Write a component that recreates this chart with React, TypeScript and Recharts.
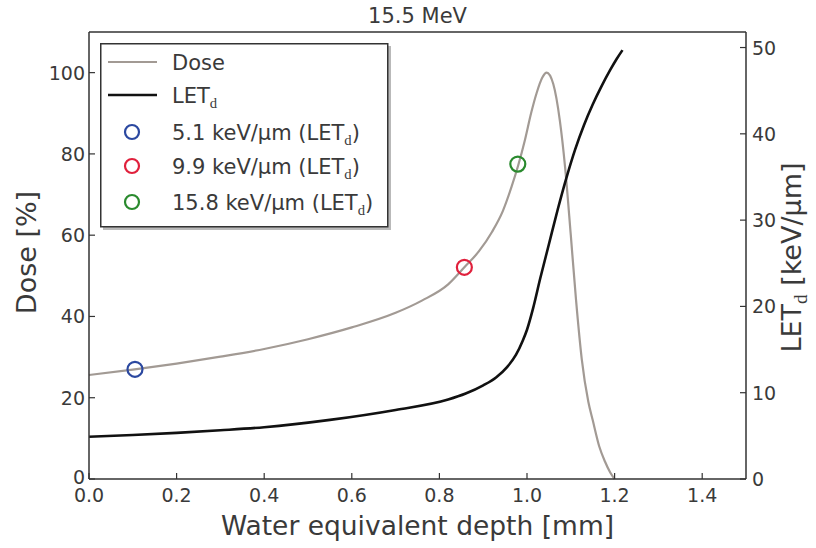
import React from 'react';
import { ComposedChart, Line, Scatter, XAxis, YAxis, Legend } from 'recharts';

// Depth-dose curve (relative dose, %)
const doseDepth = [0, 0.1, 0.2, 0.3, 0.4, 0.5, 0.6, 0.7, 0.76, 0.82, 0.857, 0.89, 0.92, 0.945, 0.965, 0.98, 0.995, 1.01, 1.022, 1.035, 1.045, 1.06, 1.075, 1.087, 1.1, 1.112, 1.125, 1.14, 1.15, 1.165, 1.178, 1.19, 1.2];
const doseValues = [25.6, 26.9, 28.4, 30.1, 32.0, 34.4, 37.3, 40.9, 43.9, 47.9, 52.1, 56.0, 60.8, 66.0, 72.0, 77.2, 83.3, 90.3, 95.0, 98.8, 100, 97.2, 88.2, 76.7, 60.0, 44.0, 29.5, 19.0, 14.5, 8.0, 4.3, 1.6, 0];

// Dose-averaged LET (keV/μm)
const letDepth = [0, 0.1, 0.2, 0.3, 0.4, 0.55, 0.7, 0.82, 0.86, 0.9, 0.93, 0.955, 0.975, 0.99, 1.0, 1.014, 1.03, 1.05, 1.07, 1.09, 1.11, 1.13, 1.15, 1.17, 1.19, 1.205, 1.218];
const letValues = [4.9, 5.1, 5.35, 5.65, 6.0, 6.85, 8.0, 9.2, 9.9, 10.85, 11.8, 13.0, 14.4, 16.0, 17.3, 19.8, 23.2, 27.2, 31.2, 34.9, 38.2, 41.0, 43.4, 45.5, 47.4, 48.7, 49.7];

// Sampling positions marked on the dose curve
const markerDepth = [0.105, 0.857, 0.979];
const markerDose = [27.0, 52.1, 77.5];
const markerLet = [5.1, 9.9, 15.8];
const markerColors = ['#2b48a0', '#e0203c', '#2a8a2e'];

const depthTicks = [0, 0.2, 0.4, 0.6, 0.8, 1.0, 1.2, 1.4];
const doseTicks = [0, 20, 40, 60, 80, 100];
const letTicks = [0, 10, 20, 30, 40, 50];

const doseData = doseDepth.map((x, i) => ({ x, dose: doseValues[i] }));
const letData = letDepth.map((x, i) => ({ x, let: letValues[i] }));

const FONT = '"DejaVu Sans", "Liberation Sans", Arial, sans-serif';
const SERIF = '"Liberation Serif", "DejaVu Serif", serif';
const AXIS = '#333';
const TEXT = '#3a3a3a';
const DOSE_COLOR = '#a29a94';
const LET_COLOR = '#111';
const TICK_LEN = 6;

const BottomTick = (props: any) => {
  const { x, y, payload } = props;
  return (
    <g>
      <line x1={x} y1={y} x2={x} y2={y - TICK_LEN} stroke={AXIS} strokeWidth={1.2} />
      <text x={x} y={y + 23} textAnchor="middle" fontSize={19} fontFamily={FONT} fill={TEXT}>
        {Number(payload.value).toFixed(1)}
      </text>
    </g>
  );
};

const TopTick = (props: any) => {
  const { x, y } = props;
  return <line x1={x} y1={y} x2={x} y2={y + TICK_LEN} stroke={AXIS} strokeWidth={1.2} />;
};

const LeftTick = (props: any) => {
  const { x, y, payload } = props;
  return (
    <g>
      <line x1={x} y1={y} x2={x + TICK_LEN} y2={y} stroke={AXIS} strokeWidth={1.2} />
      <text x={x - 4} y={y + (payload.value === 0 ? 5 : 7)} textAnchor="end" fontSize={19} fontFamily={FONT} fill={TEXT}>
        {payload.value}
      </text>
    </g>
  );
};

const RightTick = (props: any) => {
  const { x, y, payload } = props;
  return (
    <g>
      <line x1={x} y1={y} x2={x - TICK_LEN} y2={y} stroke={AXIS} strokeWidth={1.2} />
      <text x={x + 6} y={y + 7} textAnchor="start" fontSize={19} fontFamily={FONT} fill={TEXT}>
        {payload.value}
      </text>
    </g>
  );
};

const Ring = (color: string) => (props: any) => {
  const { cx, cy } = props;
  return <circle cx={cx} cy={cy} r={7.5} fill="none" stroke={color} strokeWidth={2.2} />;
};

const LetD = ({ size }: { size: number }) => (
  <>
    LET
    <tspan fontFamily={SERIF} fontSize={size * 0.7} dy={size * 0.28}>d</tspan>
  </>
);

const legendRows = [
  { kind: 'line', color: DOSE_COLOR, width: 2.2 },
  { kind: 'line', color: LET_COLOR, width: 2.6 },
  ...markerColors.map((c) => ({ kind: 'ring', color: c, width: 2.2 })),
];
const legendRowY = [19, 52, 89, 123, 159];

const renderLegend = () => (
  <svg width={292} height={188} style={{ display: 'block', overflow: 'visible' }}>
    <rect x={3} y={3} width={288} height={184} fill="#8a8a8a" opacity={0.6} />
    <rect x={0.75} y={0.75} width={287} height={183} fill="#fff" stroke={AXIS} strokeWidth={1.5} />
    {legendRows.map((row, i) => {
      const cy = legendRowY[i];
      const size = 21;
      let label: React.ReactNode;
      if (i === 0) label = 'Dose';
      else if (i === 1) label = <LetD size={size} />;
      else {
        const k = i - 2;
        label = (
          <>
            {`${markerLet[k].toFixed(1)} keV/μm (`}
            <LetD size={size} />
            <tspan dy={-size * 0.28}>)</tspan>
          </>
        );
      }
      return (
        <g key={i}>
          {row.kind === 'line' ? (
            <line x1={8} y1={cy} x2={57} y2={cy} stroke={row.color} strokeWidth={row.width} />
          ) : (
            <circle cx={32} cy={cy} r={7} fill="none" stroke={row.color} strokeWidth={2.2} />
          )}
          <text x={72} y={cy + 7.5} fontSize={size} fontFamily={FONT} fill={TEXT}>
            {label}
          </text>
        </g>
      );
    })}
  </svg>
);

const TitleLabel = (props: any) => {
  const { viewBox } = props;
  return (
    <text x={viewBox.x + viewBox.width / 2} y={23} textAnchor="middle" fontSize={21} fontFamily={FONT} fill={TEXT}>
      15.5 MeV
    </text>
  );
};

const XTitle = (props: any) => {
  const { viewBox } = props;
  return (
    <text x={viewBox.x + viewBox.width / 2} y={viewBox.y + 56} textAnchor="middle" fontSize={26.5} fontFamily={FONT} fill={TEXT}>
      Water equivalent depth [mm]
    </text>
  );
};

const DoseTitle = (props: any) => {
  const { viewBox } = props;
  const cy = viewBox.y + viewBox.height / 2 - 3;
  return (
    <text x={36} y={cy} transform={`rotate(-90, 36, ${cy})`} textAnchor="middle" fontSize={27} fontFamily={FONT} fill={TEXT}>
      Dose [%]
    </text>
  );
};

const LetTitle = (props: any) => {
  const { viewBox } = props;
  const cy = viewBox.y + viewBox.height / 2 + 2;
  const x = 801;
  return (
    <text x={x} y={cy} transform={`rotate(-90, ${x}, ${cy})`} textAnchor="middle" fontSize={27} fontFamily={FONT} fill={TEXT}>
      LET
      <tspan fontFamily={SERIF} fontSize={19} dy={6}>d</tspan>
      <tspan dy={-6}> [keV/μm]</tspan>
    </text>
  );
};

export default function App() {
  return (
    <div style={{ position: 'absolute', left: 0, top: 0, width: 816, height: 548, background: '#fff' }}>
      <ComposedChart width={816} height={548} margin={{ top: 0, right: 0, bottom: 0, left: 0 }}>
        <XAxis
          xAxisId="top"
          orientation="top"
          type="number"
          dataKey="x"
          domain={[0, 1.5]}
          ticks={depthTicks}
          height={32}
          tickSize={0}
          tickMargin={0}
          tickLine={false}
          tick={<TopTick />}
          axisLine={{ stroke: AXIS, strokeWidth: 1.5 }}
          label={<TitleLabel />}
        />
        <XAxis
          xAxisId="x"
          orientation="bottom"
          type="number"
          dataKey="x"
          domain={[0, 1.5]}
          ticks={depthTicks}
          height={69}
          tickSize={0}
          tickMargin={0}
          tickLine={false}
          tick={<BottomTick />}
          axisLine={{ stroke: AXIS, strokeWidth: 1.5 }}
          label={<XTitle />}
          interval={0}
        />
        <YAxis
          yAxisId="dose"
          orientation="left"
          type="number"
          domain={[0, 110]}
          ticks={doseTicks}
          width={89}
          tickSize={0}
          tickMargin={0}
          tickLine={false}
          tick={<LeftTick />}
          axisLine={{ stroke: AXIS, strokeWidth: 1.5 }}
          label={<DoseTitle />}
          interval={0}
        />
        <YAxis
          yAxisId="let"
          orientation="right"
          type="number"
          domain={[0, 51.8]}
          ticks={letTicks}
          width={70}
          tickSize={0}
          tickMargin={0}
          tickLine={false}
          tick={<RightTick />}
          axisLine={{ stroke: AXIS, strokeWidth: 1.5 }}
          label={<LetTitle />}
          interval={0}
        />
        <Line
          data={doseData}
          xAxisId="x"
          yAxisId="dose"
          dataKey="dose"
          type="monotone"
          stroke={DOSE_COLOR}
          strokeWidth={2.2}
          dot={false}
          activeDot={false}
          isAnimationActive={false}
        />
        <Line
          data={letData}
          xAxisId="x"
          yAxisId="let"
          dataKey="let"
          type="monotone"
          stroke={LET_COLOR}
          strokeWidth={2.6}
          dot={false}
          activeDot={false}
          isAnimationActive={false}
        />
        {markerDepth.map((d, i) => (
          <Scatter
            key={i}
            data={[{ x: d, dose: markerDose[i] }]}
            xAxisId="x"
            yAxisId="dose"
            dataKey="dose"
            shape={Ring(markerColors[i])}
            isAnimationActive={false}
          />
        ))}
        <Legend
          layout="vertical"
          align="center"
          verticalAlign="middle"
          content={renderLegend}
          wrapperStyle={{ position: 'absolute', left: 100, top: 43, width: 292, height: 188 }}
        />
      </ComposedChart>
    </div>
  );
}
